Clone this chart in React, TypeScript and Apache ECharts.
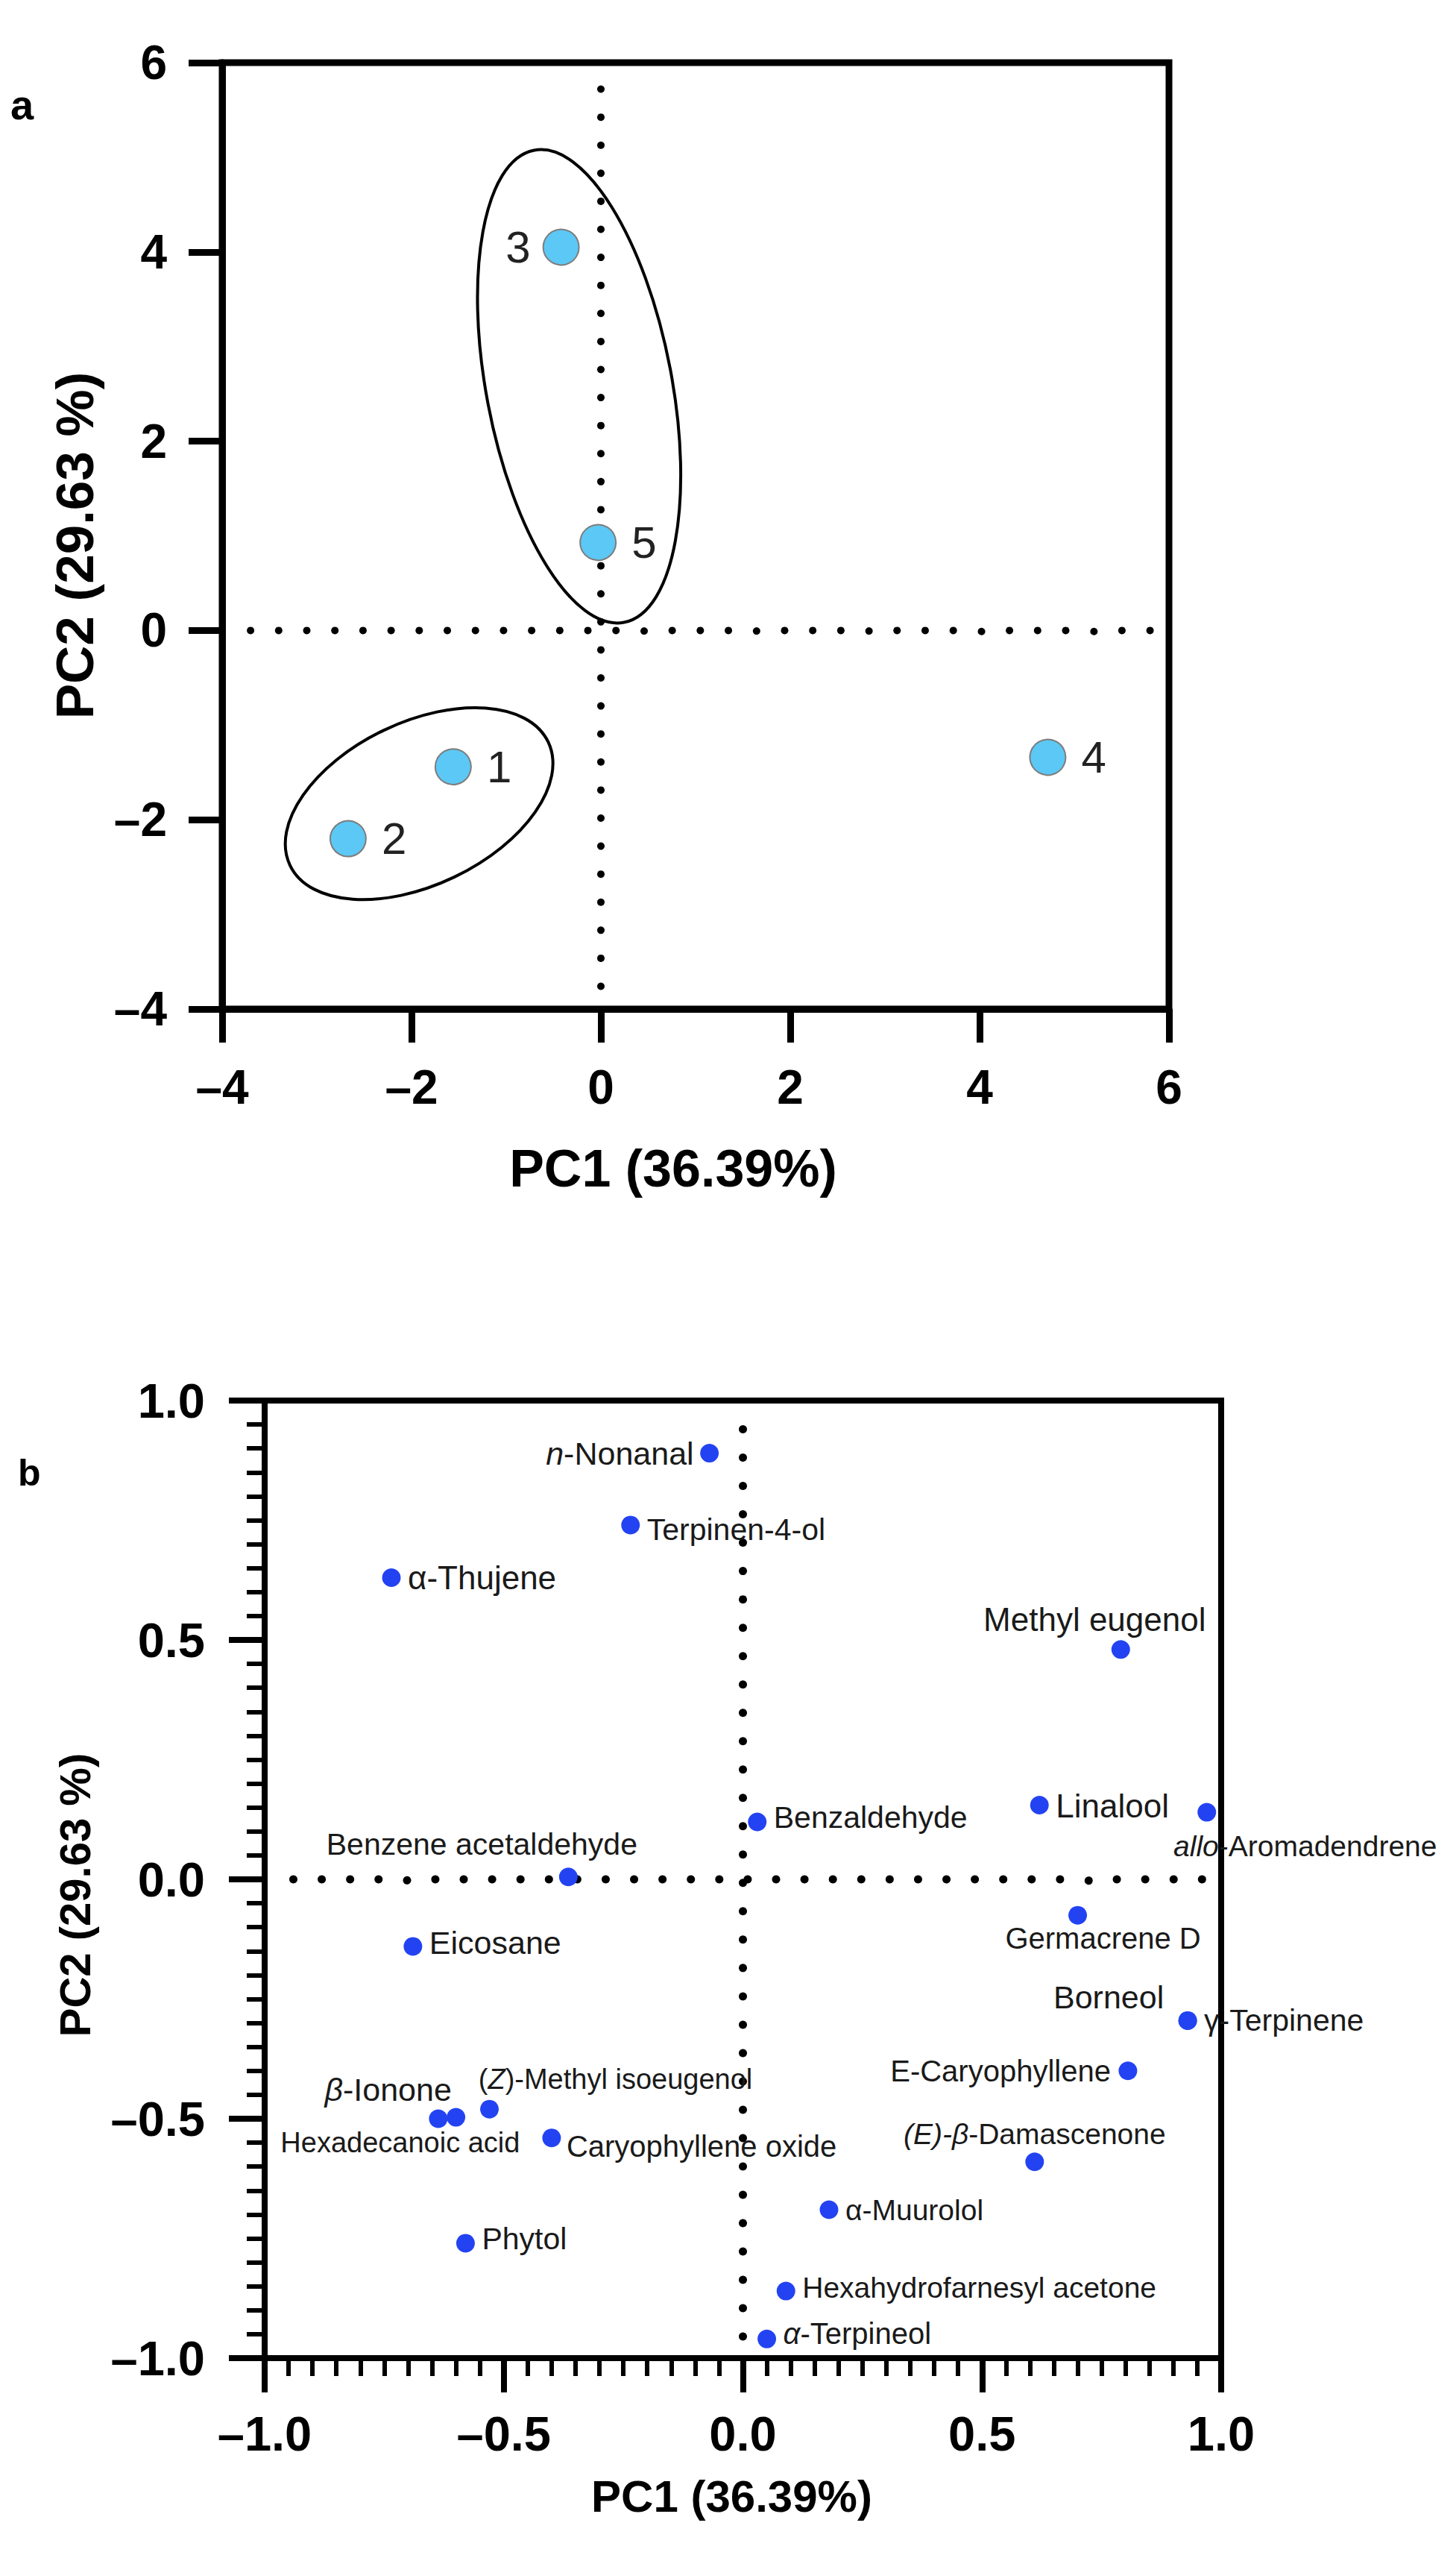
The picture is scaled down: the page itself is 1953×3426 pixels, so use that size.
import React, { useEffect, useRef } from "react";
import * as echarts from "echarts";

const FONT = '"Liberation Sans", Arial, Helvetica, sans-serif';
const PAGE_W = 1953;
const PAGE_H = 3426;

// ---------- panel a : sample scores ----------
const sampleIds = ["1", "2", "3", "4", "5"];
const samplePC1 = [-1.56, -2.67, -0.42, 4.72, -0.03];
const samplePC2 = [-1.44, -2.2, 4.05, -1.34, 0.93];
const scoreTicks = [-4, -2, 0, 2, 4, 6];
const groupCenterX = [-0.23, -1.92];
const groupCenterY = [2.58, -1.83];
const groupSemiX = [0.98, 1.51];
const groupSemiY = [2.54, 0.86];
const groupTiltDeg = [10.75, 25.5];
// zero reference lines: [x1, y1, x2, y2]
const scoreZeroLines = [
  [0, 5.72, 0, -3.76],
  [-3.7, 0, 5.8, 0],
];

// ---------- panel b : loadings ----------
const compounds = [
  "n-Nonanal",
  "Terpinen-4-ol",
  "α-Thujene",
  "Methyl eugenol",
  "Benzaldehyde",
  "Linalool",
  "allo-Aromadendrene",
  "Benzene acetaldehyde",
  "Germacrene D",
  "Eicosane",
  "Borneol",
  "γ-Terpinene",
  "E-Caryophyllene",
  "(Z)-Methyl isoeugenol",
  "β-Ionone",
  "Hexadecanoic acid",
  "Caryophyllene oxide",
  "(E)-β-Damascenone",
  "α-Muurolol",
  "Phytol",
  "Hexahydrofarnesyl acetone",
  "α-Terpineol",
];
const loadingPC1 = [
  -0.07, -0.235, -0.735, 0.79, 0.03, 0.62, 0.97, -0.365, 0.7, -0.69, 0.93,
  0.93, 0.805, -0.53, -0.6, -0.637, -0.4, 0.61, 0.18, -0.58, 0.09, 0.05,
];
const loadingPC2 = [
  0.89, 0.74, 0.63, 0.48, 0.12, 0.155, 0.14, 0.005, -0.075, -0.14, -0.295,
  -0.295, -0.4, -0.48, -0.497, -0.5, -0.54, -0.59, -0.69, -0.76, -0.86, -0.96,
];
const loadingTicks = [-1, -0.5, 0, 0.5, 1];
const loadZeroLines = [
  [0, 0.94, 0, -0.955],
  [-0.94, 0, 0.96, 0],
];

// italic fragments of compound names
const italicPart: Record<string, string> = {
  "n-Nonanal": "n",
  "allo-Aromadendrene": "allo",
  "(E)-β-Damascenone": "(E)-β",
  "β-Ionone": "β",
  "α-Terpineol": "α",
  "(Z)-Methyl isoeugenol": "Z",
};

// label layout (align, dx, dy, fontSize) in pixels relative to the point
const labelLayout: Record<string, [string, number, number, number]> = {
  "n-Nonanal": ["right", -21, 0, 43],
  "Terpinen-4-ol": ["left", 22, 6, 41],
  "α-Thujene": ["left", 22, 0, 44],
  "Methyl eugenol": ["center", -35, -40, 44],
  "Benzaldehyde": ["left", 22, -6, 41],
  "Linalool": ["left", 22, 1, 44],
  "allo-Aromadendrene": ["center", 132, 45, 39],
  "Benzene acetaldehyde": ["center", -116, -44, 41],
  "Germacrene D": ["center", 34, 31, 40],
  "Eicosane": ["left", 22, -5, 43],
  "Borneol": ["center", -106, -31, 43],
  "γ-Terpinene": ["left", 22, 0, 41],
  "E-Caryophyllene": ["right", -23, 0, 40],
  "(Z)-Methyl isoeugenol": ["center", 169, -40, 38],
  "β-Ionone": ["center", -91, -37, 43],
  "Hexadecanoic acid": ["center", -51, 32, 38],
  "Caryophyllene oxide": ["left", 20, 11, 40],
  "(E)-β-Damascenone": ["center", 0, -37, 39],
  "α-Muurolol": ["left", 22, 1, 39],
  "Phytol": ["left", 22, -6, 41],
  "Hexahydrofarnesyl acetone": ["left", 22, -5, 39],
  "α-Terpineol": ["left", 22, -7, 40],
};

function richName(name: string): string {
  const part = italicPart[name];
  if (!part) return name;
  const idx = name.indexOf(part);
  return name.slice(0, idx) + "{i|" + part + "}" + name.slice(idx + part.length);
}

const minusFmt = (v: number) => (v < 0 ? "–" + Math.abs(v) : String(v));
const minusFmt1 = (v: number) =>
  (v < 0 ? "–" : "") + Math.abs(v).toFixed(1);

const DOT_GAP = 38;

// dotted reference line: round dots placed along a segment (in pixel space)
function dottedSeries(segments: number[][], idx: number, dotR: number) {
  return {
    type: "custom",
    xAxisIndex: idx,
    yAxisIndex: idx,
    silent: true,
    z: 1,
    data: segments,
    renderItem: (_params: any, api: any) => {
      const p1 = api.coord([api.value(0), api.value(1)]);
      const p2 = api.coord([api.value(2), api.value(3)]);
      const len = Math.hypot(p2[0] - p1[0], p2[1] - p1[1]);
      const n = Math.max(1, Math.round(len / DOT_GAP));
      const children: any[] = [];
      for (let k = 0; k <= n; k++) {
        const t = k / n;
        children.push({
          type: "circle",
          shape: {
            cx: p1[0] + (p2[0] - p1[0]) * t,
            cy: p1[1] + (p2[1] - p1[1]) * t,
            r: dotR,
          },
          style: { fill: "#000" },
        });
      }
      return { type: "group", children };
    },
  };
}

export default function App() {
  const ref = useRef<HTMLDivElement>(null);

  useEffect(() => {
    if (!ref.current) return;
    const chart = echarts.init(ref.current, null, {
      renderer: "svg",
      width: PAGE_W,
      height: PAGE_H,
    });

    const axisBase = (w: number) => ({
      type: "value",
      splitLine: { show: false },
      axisLine: { show: true, onZero: false, lineStyle: { color: "#000", width: w } },
    });

    const option: any = {
      animation: false,
      backgroundColor: "#fff",
      grid: [
        {
          left: 298,
          top: 84,
          width: 1270,
          height: 1269,
          show: true,
          borderColor: "#000",
          borderWidth: 9,
        },
        {
          left: 355,
          top: 1878,
          width: 1283,
          height: 1284,
          show: true,
          borderColor: "#000",
          borderWidth: 8,
        },
      ],
      xAxis: [
        {
          ...axisBase(9),
          gridIndex: 0,
          min: scoreTicks[0],
          max: scoreTicks[scoreTicks.length - 1],
          interval: scoreTicks[1] - scoreTicks[0],
          axisTick: { show: true, length: 45, lineStyle: { color: "#000", width: 9 } },
          axisLabel: {
            fontSize: 64,
            fontWeight: "bold",
            color: "#000",
            fontFamily: FONT,
            margin: 73,
            formatter: minusFmt,
          },
          name: "PC1 (36.39%)",
          nameLocation: "middle",
          nameGap: 214,
          nameTextStyle: {
            fontSize: 70,
            fontWeight: "bold",
            color: "#000",
            fontFamily: FONT,
            verticalAlign: "middle",
            padding: [0, 60, 0, 0],
          },
        },
        {
          ...axisBase(8),
          gridIndex: 1,
          min: loadingTicks[0],
          max: loadingTicks[loadingTicks.length - 1],
          interval: loadingTicks[1] - loadingTicks[0],
          axisTick: { show: true, length: 46, lineStyle: { color: "#000", width: 8 } },
          minorTick: {
            show: true,
            splitNumber: 10,
            length: 24,
            lineStyle: { color: "#000", width: 6 },
          },
          axisLabel: {
            fontSize: 65,
            fontWeight: "bold",
            color: "#000",
            fontFamily: FONT,
            margin: 69,
            formatter: minusFmt1,
          },
          name: "PC1 (36.39%)",
          nameLocation: "middle",
          nameGap: 185,
          nameTextStyle: {
            fontSize: 60,
            fontWeight: "bold",
            color: "#000",
            fontFamily: FONT,
            verticalAlign: "middle",
            padding: [0, 30, 0, 0],
          },
        },
      ],
      yAxis: [
        {
          ...axisBase(9),
          gridIndex: 0,
          min: scoreTicks[0],
          max: scoreTicks[scoreTicks.length - 1],
          interval: scoreTicks[1] - scoreTicks[0],
          axisTick: { show: true, length: 45, lineStyle: { color: "#000", width: 9 } },
          axisLabel: {
            fontSize: 64,
            fontWeight: "bold",
            color: "#000",
            fontFamily: FONT,
            margin: 74,
            formatter: minusFmt,
          },
          name: "PC2 (29.63 %)",
          nameLocation: "middle",
          nameGap: 198,
          nameTextStyle: {
            fontSize: 71,
            fontWeight: "bold",
            color: "#000",
            fontFamily: FONT,
            verticalAlign: "middle",
            padding: [0, 26, 0, 0],
          },
        },
        {
          ...axisBase(8),
          gridIndex: 1,
          min: loadingTicks[0],
          max: loadingTicks[loadingTicks.length - 1],
          interval: loadingTicks[1] - loadingTicks[0],
          axisTick: { show: true, length: 48, lineStyle: { color: "#000", width: 8 } },
          minorTick: {
            show: true,
            splitNumber: 10,
            length: 24,
            lineStyle: { color: "#000", width: 6 },
          },
          axisLabel: {
            fontSize: 65,
            fontWeight: "bold",
            color: "#000",
            fontFamily: FONT,
            margin: 80,
            formatter: minusFmt1,
          },
          name: "PC2 (29.63 %)",
          nameLocation: "middle",
          nameGap: 255,
          nameTextStyle: {
            fontSize: 58,
            fontWeight: "bold",
            color: "#000",
            fontFamily: FONT,
            verticalAlign: "middle",
            padding: [0, 42, 0, 0],
          },
        },
      ],
      graphic: [
        {
          type: "text",
          left: 14,
          top: 112,
          style: { text: "a", fontSize: 56, fontWeight: "bold", fill: "#000", fontFamily: FONT },
        },
        {
          type: "text",
          left: 24,
          top: 1950,
          style: { text: "b", fontSize: 50, fontWeight: "bold", fill: "#000", fontFamily: FONT },
        },
      ],
      series: [
        dottedSeries(scoreZeroLines, 0, 5),
        dottedSeries(loadZeroLines, 1, 5.5),
        {
          type: "custom",
          xAxisIndex: 0,
          yAxisIndex: 0,
          silent: true,
          z: 2,
          data: groupCenterX.map((cx, i) => [
            cx,
            groupCenterY[i],
            groupSemiX[i],
            groupSemiY[i],
            groupTiltDeg[i],
          ]),
          renderItem: (_params: any, api: any) => {
            const c = api.coord([api.value(0), api.value(1)]);
            const s = api.size([api.value(2), api.value(3)]);
            return {
              type: "ellipse",
              x: c[0],
              y: c[1],
              rotation: (api.value(4) * Math.PI) / 180,
              shape: { cx: 0, cy: 0, rx: s[0], ry: s[1] },
              style: { fill: "none", stroke: "#000", lineWidth: 4 },
            };
          },
        },
        {
          type: "scatter",
          xAxisIndex: 0,
          yAxisIndex: 0,
          z: 3,
          symbolSize: 48,
          itemStyle: { color: "#5CC8F5", borderColor: "#7d7d7d", borderWidth: 2, opacity: 1 },
          data: samplePC1.map((x, i) => ({
            value: [x, samplePC2[i]],
            name: sampleIds[i],
            label: {
              show: true,
              position: sampleIds[i] === "3" ? "left" : "right",
              distance: sampleIds[i] === "3" ? 16 : 20,
            },
          })),
          label: {
            show: true,
            formatter: "{b}",
            fontSize: 60,
            color: "#222",
            fontFamily: FONT,
          },
        },
        {
          type: "scatter",
          xAxisIndex: 1,
          yAxisIndex: 1,
          z: 3,
          symbolSize: 25,
          itemStyle: { color: "#2343F2", opacity: 1 },
          data: compounds.map((name, i) => {
            const [align, dx, dy, size] = labelLayout[name];
            return {
              value: [loadingPC1[i], loadingPC2[i]],
              name,
              label: {
                show: true,
                formatter: richName(name),
                position: [12.5 + dx, 12.5 + dy],
                align,
                verticalAlign: "middle",
                fontSize: size,
                color: "#1a1a1a",
                fontFamily: FONT,
                rich: {
                  i: {
                    fontStyle: "italic",
                    fontSize: size,
                    color: "#1a1a1a",
                    fontFamily: FONT,
                  },
                },
              },
            };
          }),
        },
      ],
    };

    chart.setOption(option);
    return () => chart.dispose();
  }, []);

  return (
    <div
      ref={ref}
      style={{
        position: "absolute",
        left: 0,
        top: 0,
        width: PAGE_W,
        height: PAGE_H,
        background: "#fff",
      }}
    />
  );
}
